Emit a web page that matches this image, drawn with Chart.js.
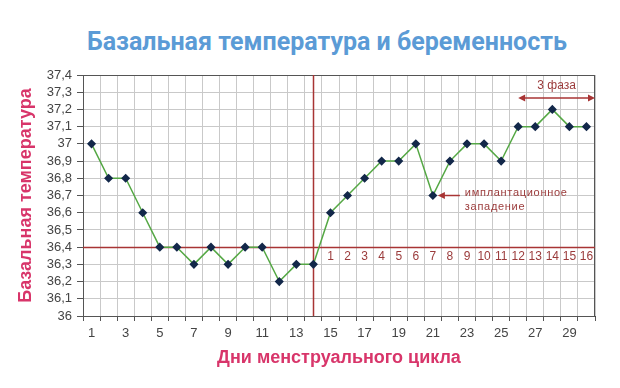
<!DOCTYPE html>
<html>
<head>
<meta charset="utf-8">
<script src="https://cdn.jsdelivr.net/npm/chart.js@4/dist/chart.umd.min.js"></script>
<style>
  html, body { margin: 0; padding: 0; background: #fff; }
  #wrap { position: relative; width: 620px; height: 388px; }
  #title {
    position: absolute; left: 0; top: 27px; width: 654px; line-height: 30px;
    text-align: center; font: bold 25px Roboto, sans-serif; color: #5b9bd6;
  }
  canvas { position: absolute; left: 0; top: 0; }
</style>
</head>
<body>
<div id="wrap">
  <div id="title">Базальная температура и беременность</div>
  <canvas id="bbt" width="620" height="388"></canvas>
</div>
<script>
// cycle days and measured basal temperature
const days = ["1","2","3","4","5","6","7","8","9","10","11","12","13","14","15",
              "16","17","18","19","20","21","22","23","24","25","26","27","28","29","30"];
const temps = [37.0, 36.8, 36.8, 36.6, 36.4, 36.4, 36.3, 36.4, 36.3, 36.4,
               36.4, 36.2, 36.3, 36.3, 36.6, 36.7, 36.8, 36.9, 36.9, 37.0,
               36.7, 36.9, 37.0, 37.0, 36.9, 37.1, 37.1, 37.2, 37.1, 37.1];

// markers
const coverLine = 36.4;
const ovulationDay = "14";
const phaseDays = ["15","16","17","18","19","20","21","22","23","24","25","26","27","28","29","30"];
const phaseLabels = ["1","2","3","4","5","6","7","8","9","10","11","12","13","14","15","16"];
const dipDay = "21";
const dipNote = ["имплантационное", "западение"];
const phase3Start = "26";
const phase3Label = "3 фаза";

const RED = "#a83434";
const NOTE = "#9b3b3b";
const FONT = "'Liberation Sans', Arial, sans-serif";

function arrowHead(ctx, x, y, dir) {
  ctx.beginPath();
  ctx.moveTo(x, y);
  ctx.lineTo(x - dir * 7, y - 3.5);
  ctx.lineTo(x - dir * 7, y + 3.5);
  ctx.closePath();
  ctx.fill();
}

const overlays = {
  id: "overlays",
  beforeDatasetsDraw(chart) {
    const { ctx, chartArea: a, scales: { x, y } } = chart;
    ctx.save();
    // frame
    ctx.strokeStyle = "#555";
    ctx.lineWidth = 1;
    ctx.strokeRect(a.left + 0.5, a.top + 0.5, a.right - a.left - 1, a.bottom - a.top);
    // cover line and ovulation line
    ctx.strokeStyle = RED;
    ctx.lineWidth = 1.5;
    const yc = Math.round(y.getPixelForValue(coverLine)) + 0.5;
    ctx.beginPath();
    ctx.moveTo(a.left, yc);
    ctx.lineTo(a.right, yc);
    const xo = Math.round(x.getPixelForValue(days.indexOf(ovulationDay))) + 0.5;
    ctx.moveTo(xo, a.top);
    ctx.lineTo(xo, a.bottom);
    ctx.stroke();
    ctx.restore();
  },
  afterDatasetsDraw(chart) {
    const { ctx, chartArea: a, scales: { x, y } } = chart;
    ctx.save();
    // luteal phase day numbers
    ctx.fillStyle = NOTE;
    ctx.font = "12px " + FONT;
    ctx.textAlign = "center";
    ctx.textBaseline = "middle";
    const yn = (y.getPixelForValue(coverLine) + y.getPixelForValue(coverLine - 0.1)) / 2 + 1;
    phaseDays.forEach((d, i) => {
      ctx.fillText(phaseLabels[i], x.getPixelForValue(days.indexOf(d)), yn);
    });

    // implantation dip note
    const di = days.indexOf(dipDay);
    const xd = x.getPixelForValue(di);
    const yd = y.getPixelForValue(temps[di]);
    ctx.strokeStyle = RED;
    ctx.fillStyle = RED;
    ctx.lineWidth = 1.5;
    ctx.beginPath();
    ctx.moveTo(xd + 8, yd);
    ctx.lineTo(xd + 27, yd);
    ctx.stroke();
    arrowHead(ctx, xd + 5, yd, -1);
    ctx.fillStyle = NOTE;
    ctx.textAlign = "left";
    ctx.font = "11px " + FONT;
    ctx.letterSpacing = "0.7px";
    ctx.fillText(dipNote[0], xd + 32, yd - 3);
    ctx.fillText(dipNote[1], xd + 32, yd + 11);
    ctx.letterSpacing = "0px";

    // third phase arrow
    const xs = x.getPixelForValue(days.indexOf(phase3Start));
    const ya = y.getPixelForValue(37.4) + 23;
    ctx.strokeStyle = RED;
    ctx.fillStyle = RED;
    ctx.beginPath();
    ctx.moveTo(xs + 5, ya);
    ctx.lineTo(a.right - 5, ya);
    ctx.stroke();
    arrowHead(ctx, xs, ya, -1);
    arrowHead(ctx, a.right, ya, 1);
    ctx.fillStyle = NOTE;
    ctx.textAlign = "center";
    ctx.font = "12px " + FONT;
    ctx.fillText(phase3Label, (xs + a.right) / 2, ya - 12);
    ctx.restore();
  }
};

new Chart(document.getElementById("bbt"), {
  type: "line",
  data: {
    labels: days,
    datasets: [{
      data: temps,
      borderColor: "#55a845",
      borderWidth: 1.5,
      pointStyle: "rectRot",
      pointRadius: 3.5,
      pointBackgroundColor: "#13284a",
      pointBorderColor: "#13284a",
      tension: 0
    }]
  },
  options: {
    responsive: false,
    animation: false,
    layout: { padding: { top: 75, right: 25 } },
    plugins: { legend: { display: false }, tooltip: { enabled: false } },
    scales: {
      x: {
        offset: true,
        grid: { offset: true, color: "#c9c9c9", tickColor: "#555", tickLength: 5 },
        border: { color: "#444" },
        ticks: {
          autoSkip: false, maxRotation: 0, padding: 5, color: "#444",
          font: { size: 13, family: FONT },
          callback: (v, i) => (i % 2 === 0 ? days[i] : "")
        },
        title: {
          display: true, text: "Дни менструального цикла", color: "#d8356a",
          font: { size: 18, weight: "bold", family: FONT },
          padding: { top: 0, bottom: 19 }
        },
        afterFit: (s) => { s.height = 72; }
      },
      y: {
        min: 36, max: 37.4,
        grid: { color: "#c9c9c9", tickColor: "#555", tickLength: 6 },
        border: { color: "#444" },
        ticks: {
          autoSkip: false, stepSize: 0.1, padding: 5, color: "#444",
          font: { size: 13, family: FONT },
          callback: (v) => String(Math.round(v * 10) / 10).replace(".", ",")
        },
        title: {
          display: true, text: "Базальная температура", color: "#d8356a",
          font: { size: 18, weight: "bold", family: FONT },
          padding: { top: 15, bottom: 0 }
        },
        afterFit: (s) => { s.width = 83; }
      }
    }
  },
  plugins: [overlays]
});
</script>
</body>
</html>
